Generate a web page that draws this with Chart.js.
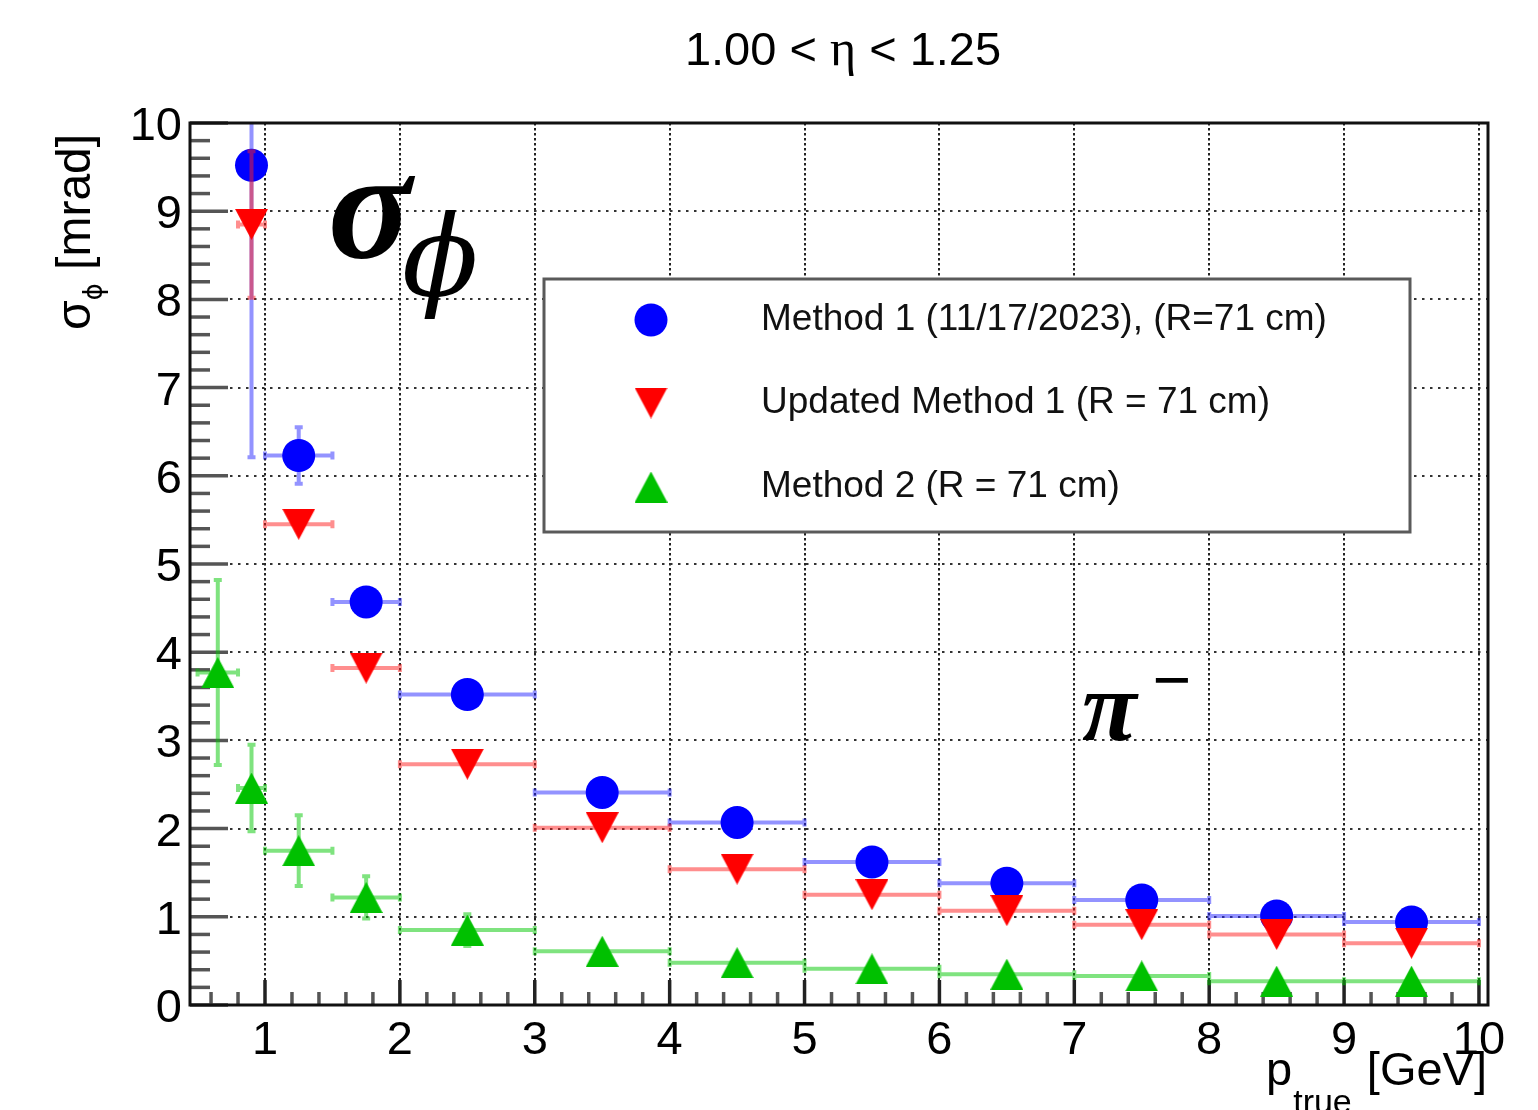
<!DOCTYPE html>
<html><head><meta charset="utf-8">
<script src="https://cdn.jsdelivr.net/npm/chart.js@4.4.1/dist/chart.umd.min.js"></script>
<style>html,body{margin:0;padding:0;background:#fff;}#wrap{position:relative;width:1538px;height:1110px;}</style>
</head><body><div id="wrap"><canvas id="c" width="1538" height="1110"></canvas></div>
<script>
// ---------- data ----------
const seriesLabels = ['Method 1 (11/17/2023), (R=71 cm)', 'Updated Method 1 (R = 71 cm)', 'Method 2 (R = 71 cm)'];
const m1X    = [0.9, 1.25, 1.75, 2.5, 3.5, 4.5, 5.5, 6.5, 7.5, 8.5, 9.5];
const m1XErr = [0.1, 0.25, 0.25, 0.5, 0.5, 0.5, 0.5, 0.5, 0.5, 0.5, 0.5];
const m1Y    = [9.52, 6.23, 4.57, 3.52, 2.41, 2.07, 1.62, 1.38, 1.19, 1.01, 0.94];
const m1YErr = [3.31, 0.32, 0.08, 0.05, 0.05, 0.04, 0.04, 0.03, 0.03, 0.03, 0.03];
const um1X    = [0.9, 1.25, 1.75, 2.5, 3.5, 4.5, 5.5, 6.5, 7.5, 8.5, 9.5];
const um1XErr = [0.1, 0.25, 0.25, 0.5, 0.5, 0.5, 0.5, 0.5, 0.5, 0.5, 0.5];
const um1Y    = [8.85, 5.45, 3.82, 2.73, 2.01, 1.54, 1.25, 1.07, 0.91, 0.80, 0.70];
const um1YErr = [0.83, 0.06, 0.05, 0.04, 0.04, 0.03, 0.03, 0.03, 0.02, 0.02, 0.02];
const m2X    = [0.65, 0.9, 1.25, 1.75, 2.5, 3.5, 4.5, 5.5, 6.5, 7.5, 8.5, 9.5];
const m2XErr = [0.15, 0.1, 0.25, 0.25, 0.5, 0.5, 0.5, 0.5, 0.5, 0.5, 0.5, 0.5];
const m2Y    = [3.77, 2.46, 1.75, 1.22, 0.85, 0.61, 0.48, 0.41, 0.35, 0.33, 0.27, 0.27];
const m2YErr = [1.05, 0.49, 0.40, 0.24, 0.18, 0.06, 0.05, 0.04, 0.04, 0.03, 0.03, 0.03];
const xTickValues = [1, 2, 3, 4, 5, 6, 7, 8, 9, 10];
const yTickValues = [0, 1, 2, 3, 4, 5, 6, 7, 8, 9, 10];
const titleParts = ['1.00 < ', 'η', ' < 1.25'];
const xTitleParts = ['p', 'true', ' [GeV]'];
const yTitleParts = ['σ', 'ϕ', ' [mrad]'];
const bigLabelParts = ['σ', 'ϕ'];
const particleParts = ['π', '−'];

// ---------- styling helpers ----------
const SANS = '"Liberation Sans", Arial, Helvetica, sans-serif';
const SERIF = '"Liberation Serif", "Times New Roman", serif';

function triImage(color, down) {
  const w = 33, h = 31;
  const c = document.createElement('canvas');
  c.width = w; c.height = h;
  const g = c.getContext('2d');
  g.fillStyle = color;
  g.beginPath();
  if (down) { g.moveTo(0, 0); g.lineTo(w, 0); g.lineTo(w / 2, h); }
  else { g.moveTo(w / 2, 0); g.lineTo(w, h); g.lineTo(0, h); }
  g.closePath(); g.fill();
  return c;
}
const downRed = triImage('#ff0000', true);
const upGreen = triImage('#00c000', false);

function pts(xs, xe, ys, ye) {
  return xs.map((x, i) => ({ x: x, y: ys[i], xErr: xe[i], yErr: ye[i] }));
}

const datasets = [
  { label: seriesLabels[0], data: pts(m1X, m1XErr, m1Y, m1YErr), pointStyle: 'circle', pointRadius: 16.5,
    backgroundColor: '#0000ff', borderWidth: 0, pointBorderWidth: 0, showLine: false, order: 3, errColor: 'rgba(40,40,255,0.5)' },
  { label: seriesLabels[1], data: pts(um1X, um1XErr, um1Y, um1YErr), pointStyle: downRed, pointRadius: 16,
    backgroundColor: '#ff0000', borderWidth: 0, pointBorderWidth: 0, showLine: false, order: 2, errColor: 'rgba(255,30,30,0.5)' },
  { label: seriesLabels[2], data: pts(m2X, m2XErr, m2Y, m2YErr), pointStyle: upGreen, pointRadius: 16,
    backgroundColor: '#00c000', borderWidth: 0, pointBorderWidth: 0, showLine: false, order: 1, errColor: 'rgba(0,200,0,0.5)' }
];

// ---------- plugins ----------
const framePlugin = {
  id: 'frame',
  beforeDatasetsDraw(chart) {
    const ctx = chart.ctx, a = chart.chartArea, xs = chart.scales.x, ys = chart.scales.y;
    ctx.save();
    ctx.strokeStyle = '#222';
    ctx.lineWidth = 2;
    ctx.setLineDash([2.5, 2.5]);
    xs.ticks.forEach(t => {
      const px = Math.round(xs.getPixelForValue(t.value));
      if (px <= a.left + 2 || px >= a.right - 2) return;
      ctx.beginPath(); ctx.moveTo(px, a.top); ctx.lineTo(px, a.bottom); ctx.stroke();
    });
    ctx.setLineDash([2.5, 5.5]);
    ctx.strokeStyle = '#333';
    ys.ticks.forEach(t => {
      const py = Math.round(ys.getPixelForValue(t.value));
      if (py <= a.top + 2 || py >= a.bottom - 2) return;
      ctx.beginPath(); ctx.moveTo(a.left, py); ctx.lineTo(a.right, py); ctx.stroke();
    });
    ctx.setLineDash([]);
    ctx.strokeStyle = '#555';
    ctx.lineWidth = 3.5;
    for (let v = 0; v <= 10.0001; v += 0.2) {
      const py = ys.getPixelForValue(v);
      const major = Math.abs(v - Math.round(v)) < 1e-6;
      ctx.beginPath(); ctx.moveTo(a.left, py); ctx.lineTo(a.left + (major ? 38 : 20), py); ctx.stroke();
    }
    for (let v = 0.6; v <= xs.max + 1e-6; v += 0.2) {
      const px = xs.getPixelForValue(v);
      const major = Math.abs(v - Math.round(v)) < 1e-6;
      ctx.strokeStyle = major ? '#222' : '#555';
      ctx.beginPath(); ctx.moveTo(px, a.bottom); ctx.lineTo(px, a.bottom - (major ? 25 : 13)); ctx.stroke();
    }
    ctx.restore();
  },
  afterDraw(chart) {
    const ctx = chart.ctx, a = chart.chartArea;
    ctx.save();
    ctx.strokeStyle = '#111';
    ctx.lineWidth = 3;
    ctx.strokeRect(a.left, a.top, a.right - a.left, a.bottom - a.top);
    ctx.restore();
  }
};

const errorBarPlugin = {
  id: 'errorBars',
  beforeDatasetDraw(chart, args) {
    const ds = chart.data.datasets[args.index];
    const xs = chart.scales.x, ys = chart.scales.y, ctx = chart.ctx, a = chart.chartArea;
    ctx.save();
    ctx.beginPath(); ctx.rect(a.left, a.top, a.right - a.left, a.bottom - a.top); ctx.clip();
    ctx.strokeStyle = ds.errColor;
    ctx.lineWidth = 4;
    ctx.beginPath();
    const cap = 4;
    ds.data.forEach(p => {
      const px = xs.getPixelForValue(p.x), py = ys.getPixelForValue(p.y);
      const x0 = xs.getPixelForValue(p.x - p.xErr), x1 = xs.getPixelForValue(p.x + p.xErr);
      const y0 = ys.getPixelForValue(p.y - p.yErr), y1 = ys.getPixelForValue(p.y + p.yErr);
      ctx.moveTo(x0, py); ctx.lineTo(x1, py);
      ctx.moveTo(x0, py - cap); ctx.lineTo(x0, py + cap);
      ctx.moveTo(x1, py - cap); ctx.lineTo(x1, py + cap);
      if (Math.abs(y1 - y0) > 1) {
        ctx.moveTo(px, y0); ctx.lineTo(px, py - 0.01);
        ctx.moveTo(px, py + 0.01); ctx.lineTo(px, y1);
        ctx.moveTo(px - cap, y0); ctx.lineTo(px + cap, y0);
        ctx.moveTo(px - cap, y1); ctx.lineTo(px + cap, y1);
      }
    });
    ctx.stroke();
    ctx.restore();
  }
};

const legendPlugin = {
  id: 'boxLegend',
  afterDatasetsDraw(chart) {
    const ctx = chart.ctx;
    ctx.save();
    ctx.fillStyle = '#fff';
    ctx.fillRect(544, 279, 866, 253);
    ctx.strokeStyle = '#5a5a5a';
    ctx.lineWidth = 3;
    ctx.strokeRect(544, 279, 866, 253);
    const rows = [320, 403, 487];
    chart.data.datasets.forEach((ds, i) => {
      const y = rows[i];
      if (ds.pointStyle === 'circle') {
        ctx.fillStyle = ds.backgroundColor;
        ctx.beginPath(); ctx.arc(651, y, ds.pointRadius, 0, Math.PI * 2); ctx.fill();
      } else {
        Chart.helpers.drawPoint(ctx, { pointStyle: ds.pointStyle, radius: ds.pointRadius, rotation: 0, borderWidth: 0 }, 651, y);
      }
      ctx.fillStyle = '#111';
      ctx.font = '37px ' + SANS;
      ctx.textBaseline = 'middle';
      ctx.textAlign = 'left';
      ctx.fillText(ds.label, 761, y);
    });
    ctx.restore();
  }
};

function drawParts(ctx, parts, x, y) {
  let cx = x;
  parts.forEach(p => { ctx.font = p.font; ctx.fillText(p.t, cx, y + (p.dy || 0)); cx += ctx.measureText(p.t).width + (p.gap || 0); });
  return cx - x;
}
function measureParts(ctx, parts) {
  let w = 0;
  parts.forEach(p => { ctx.font = p.font; w += ctx.measureText(p.t).width + (p.gap || 0); });
  return w;
}

const textPlugin = {
  id: 'texts',
  afterDraw(chart) {
    const ctx = chart.ctx;
    ctx.save();
    ctx.fillStyle = '#000';
    ctx.textBaseline = 'alphabetic';
    ctx.textAlign = 'left';
    // title
    const tp = [
      { t: titleParts[0], font: '47px ' + SANS },
      { t: titleParts[1], font: '50px ' + SERIF },
      { t: titleParts[2], font: '47px ' + SANS }
    ];
    const tw = measureParts(ctx, tp);
    drawParts(ctx, tp, 843 - tw / 2, 65);
    // x-axis title
    const xp = [
      { t: xTitleParts[0], font: '47px ' + SANS, gap: 1 },
      { t: xTitleParts[1], font: '34px ' + SANS, dy: 28, gap: 2 },
      { t: xTitleParts[2], font: '47px ' + SANS }
    ];
    const xw = measureParts(ctx, xp);
    drawParts(ctx, xp, 1487 - xw, 1085);
    // y-axis title (rotated)
    ctx.save();
    ctx.translate(90, 330);
    ctx.rotate(-Math.PI / 2);
    const yp = [
      { t: yTitleParts[0], font: '48px ' + SANS },
      { t: yTitleParts[1], font: '26px "DejaVu Sans", ' + SANS, dy: 12 },
      { t: yTitleParts[2], font: '48px ' + SANS }
    ];
    drawParts(ctx, yp, 0, 0);
    ctx.restore();
    // big sigma_phi
    ctx.font = 'italic bold 155px ' + SERIF;
    ctx.fillText(bigLabelParts[0], 328, 257);
    ctx.font = 'italic 112px "DejaVu Serif", ' + SERIF;
    ctx.fillText(bigLabelParts[1], 402, 296);
    // pi minus
    ctx.font = 'italic bold 100px ' + SERIF;
    ctx.fillText(particleParts[0], 1082, 740);
    ctx.font = 'bold 69px ' + SERIF;
    ctx.fillText(particleParts[1], 1152, 703);
    ctx.restore();
  }
};

// ---------- chart ----------
new Chart(document.getElementById('c'), {
  type: 'scatter',
  data: { datasets: datasets },
  options: {
    responsive: false,
    animation: false,
    devicePixelRatio: 1,
    layout: { padding: { top: 123, right: 50, left: 0, bottom: 0 } },
    plugins: { legend: { display: false }, tooltip: { enabled: false }, title: { display: false } },
    scales: {
      x: {
        type: 'linear', min: 0.444, max: 10.067,
        afterBuildTicks: s => { s.ticks = xTickValues.map(v => ({ value: v })); },
        afterFit: s => { s.height = 105; },
        grid: { display: false, drawTicks: false },
        border: { display: false },
        ticks: { font: { family: SANS, size: 47 }, color: '#000', padding: 8, maxRotation: 0, autoSkip: false,
                 callback: v => String(v) }
      },
      y: {
        type: 'linear', min: 0, max: 10,
        afterBuildTicks: s => { s.ticks = yTickValues.map(v => ({ value: v })); },
        afterFit: s => { s.width = 190; },
        grid: { display: false, drawTicks: false },
        border: { display: false },
        ticks: { font: { family: SANS, size: 47 }, color: '#000', padding: 8, labelOffset: 4, autoSkip: false,
                 callback: v => String(v) }
      }
    }
  },
  plugins: [framePlugin, errorBarPlugin, legendPlugin, textPlugin]
});
</script>
</body></html>
